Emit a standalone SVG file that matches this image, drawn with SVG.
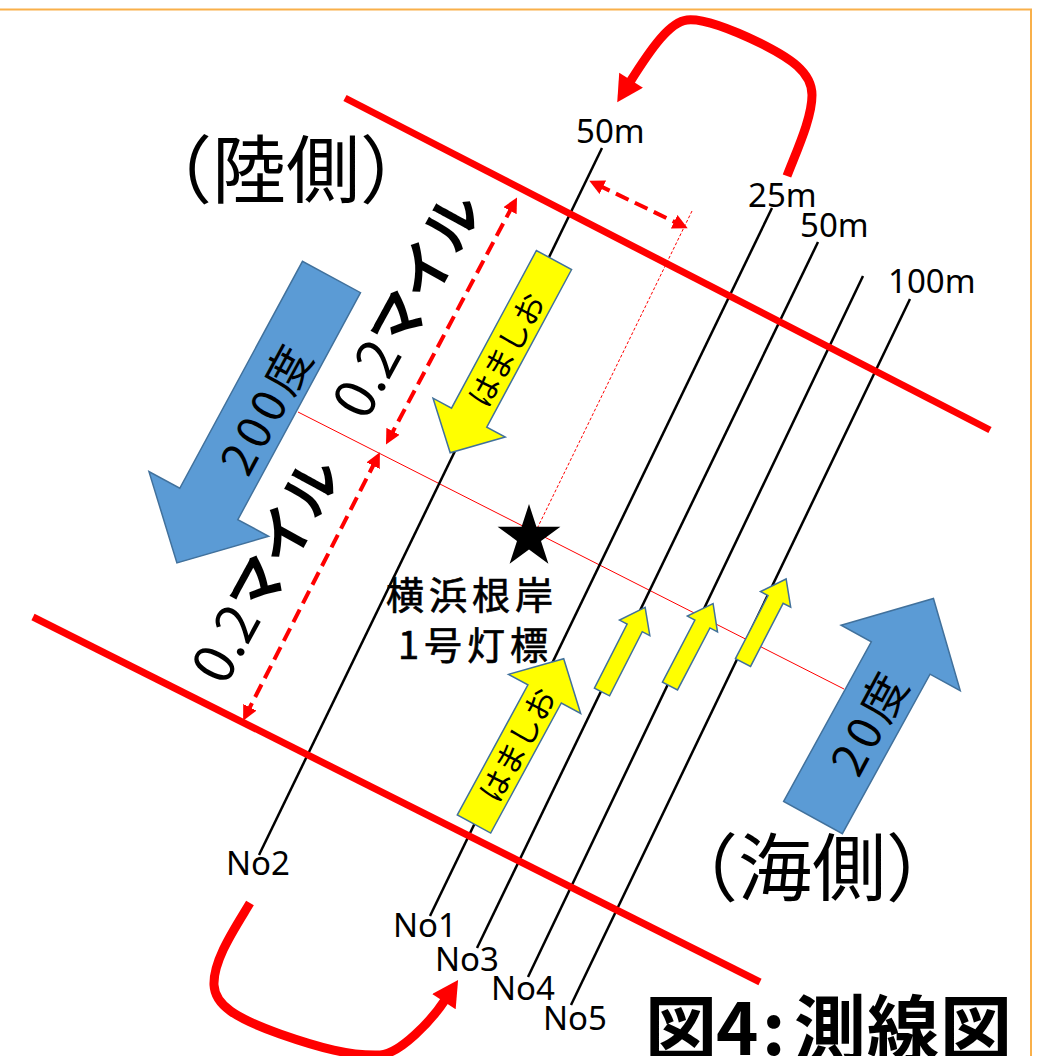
<svg xmlns="http://www.w3.org/2000/svg" width="1037" height="1056" viewBox="0 0 1037 1056">
<defs>
<style>
.jp{font-family:"Noto Sans CJK JP","Noto Sans CJK SC",sans-serif;fill:#000}
.lbl{font-family:"Noto Sans","DejaVu Sans",sans-serif;font-size:33px;fill:#000}
.survey{stroke:#000;stroke-width:2.5;fill:none}
.bound{stroke:#FF0000;stroke-width:7;fill:none}
.dash{stroke:#FF0000;stroke-width:4;stroke-dasharray:14 7;fill:none}
.yel{fill:#FFFF00;stroke:#41719C;stroke-width:1.5}
.blu{fill:#5B9BD5;stroke:#41719C;stroke-width:1.5}
.turn{stroke:#FF0000;stroke-width:9;fill:none}
</style>
<marker id="mTurn" markerUnits="userSpaceOnUse" markerWidth="28" markerHeight="28" viewBox="0 0 26 28" refX="2" refY="14" orient="auto"><path d="M0,0 L26,14 L0,28 Z" fill="#FF0000"/></marker>
<marker id="mDash" markerUnits="userSpaceOnUse" markerWidth="15" markerHeight="15" viewBox="0 0 14 14" refX="6" refY="7" orient="auto-start-reverse"><path d="M0,0 L14,7 L0,14 Z" fill="#FF0000"/></marker>
</defs>
<rect width="1037" height="1056" fill="#FFFFFF"/>
<g id="frame" fill="none" stroke="#F9B04A" stroke-width="2">
<path d="M0,9.5 H1031 V1056"/>
</g>
<g id="connectors">
<line id="axis-line" x1="298" y1="412" x2="844" y2="689" stroke="#FF0000" stroke-width="1"/>
<line id="offset-guide" x1="692" y1="211" x2="533" y2="537" stroke="#FF0000" stroke-width="1" stroke-dasharray="3 2"/>
<line id="line-no2" class="survey" x1="602" y1="148" x2="259" y2="855"/>
<line id="line-no1" class="survey" x1="772" y1="208" x2="430" y2="916"/>
<line id="line-no3" class="survey" x1="818" y1="242" x2="477" y2="948"/>
<line id="line-no4" class="survey" x1="863" y1="276" x2="528" y2="977"/>
<line id="line-no5" class="survey" x1="910" y1="299" x2="571" y2="1005"/>
<line id="bound-land" class="bound" x1="345" y1="98" x2="990" y2="430"/>
<line id="bound-sea" class="bound" x1="33" y1="617" x2="760" y2="982"/>
<line id="dim-spacing" class="dash" x1="597" y1="184.5" x2="680" y2="224.5" marker-start="url(#mDash)" marker-end="url(#mDash)"/>
<line id="dim-upper" class="dash" x1="513" y1="205" x2="390" y2="437" marker-start="url(#mDash)" marker-end="url(#mDash)"/>
<line id="dim-lower" class="dash" x1="376" y1="460" x2="247" y2="713" marker-start="url(#mDash)" marker-end="url(#mDash)"/>
<path id="turn-top" class="turn" d="M787,176 C797,150 812,118 812,95 C812,72 790,58 760,43 C735,31 705,18 687,20 C670,22 652,47 630,82" marker-end="url(#mTurn)"/>
<path id="turn-bottom" class="turn" d="M250,903 C235,928 213,960 214,985 C215,1005 235,1018 280,1034 C320,1048 350,1056 380,1055 C400,1054 432,1020 445,1000" marker-end="url(#mTurn)"/>
</g>
<g id="hamashio-down">
<polygon class="yel" transform="translate(554,260) rotate(118.3)" points="0,-20 179,-20 179,-41 219,0 179,41 179,20 0,20"/>
<text class="jp" font-size="31" text-anchor="middle" transform="translate(507,350) rotate(-61.5)" y="11">はましお</text>
</g>
<g id="hamashio-up">
<polygon class="yel" transform="translate(474,824) rotate(-61.5)" points="0,-19 148,-19 148,-41 188,0 148,41 148,19 0,19"/>
<text class="jp" font-size="31" text-anchor="middle" transform="translate(518,745) rotate(-61.5)" y="11">はましお</text>
</g>
<g id="run-arrow-3">
<polygon class="yel" transform="translate(602,692) rotate(-63)" points="0,-8.5 72,-8.5 72,-17 95,0 72,17 72,8.5 0,8.5"/>
</g>
<g id="run-arrow-4">
<polygon class="yel" transform="translate(670,686) rotate(-62.4)" points="0,-8.5 70,-8.5 70,-17 93,0 70,17 70,8.5 0,8.5"/>
</g>
<g id="run-arrow-5">
<polygon class="yel" transform="translate(743,662.5) rotate(-62.7)" points="0,-8.5 71,-8.5 71,-17 94,0 71,17 71,8.5 0,8.5"/>
</g>
<g id="heading-200">
<polygon class="blu" transform="translate(331.5,277) rotate(118.4)" points="0,-33 258,-33 258,-68 325,0 258,68 258,33 0,33"/>
<text class="jp" font-size="46" text-anchor="middle" transform="translate(266,410) rotate(-61.5)" y="17"><tspan letter-spacing="5">200</tspan>度</text>
</g>
<g id="heading-20">
<polygon class="blu" transform="translate(813,817.5) rotate(-61.2)" points="0,-33.5 182,-33.5 182,-68 250,0 182,68 182,33.5 0,33.5"/>
<text class="jp" font-size="46" text-anchor="middle" transform="translate(869,724) rotate(-61.5)" y="17"><tspan letter-spacing="5">20</tspan>度</text>
</g>
<g id="lighthouse">
<polygon fill="#000" points="529,504 536.4,526.8 560.4,526.8 541,540.9 548.4,563.7 529,549.6 509.6,563.7 517,540.9 497.6,526.8 521.6,526.8"/>
<text class="jp" font-size="38" letter-spacing="5" stroke="#000" stroke-width="0.7"><tspan x="386" y="609">横浜根岸</tspan><tspan x="398" y="659">1号灯標</tspan></text>
</g>
<g id="distance-labels">
<text class="jp" font-size="56" text-anchor="middle" transform="translate(407,305) rotate(-61.5)" y="20">0.2<tspan font-weight="bold">マイル</tspan></text>
<text class="jp" font-size="56" text-anchor="middle" transform="translate(266,570) rotate(-61.5)" y="20">0.2<tspan font-weight="bold">マイル</tspan></text>
</g>
<g id="side-labels">
<text class="jp" font-size="74" x="138" y="197">（陸側）</text>
<text class="jp" font-size="74" x="664" y="895">（海側）</text>
</g>
<g id="line-labels">
<text class="lbl" x="576" y="143">50m</text>
<text class="lbl" x="748" y="207">25m</text>
<text class="lbl" x="800" y="237">50m</text>
<text class="lbl" x="888" y="293">100m</text>
<text class="lbl" x="226" y="875">No2</text>
<text class="lbl" x="393" y="937">No1</text>
<text class="lbl" x="435" y="971">No3</text>
<text class="lbl" x="491" y="1000">No4</text>
<text class="lbl" x="543" y="1030">No5</text>
</g>
<g id="title">
<text class="jp" font-size="72" font-weight="bold" y="1055"><tspan x="645">図</tspan><tspan x="716">4</tspan><tspan x="762">:</tspan><tspan x="794" letter-spacing="1">測線図</tspan></text>
</g>
</svg>
